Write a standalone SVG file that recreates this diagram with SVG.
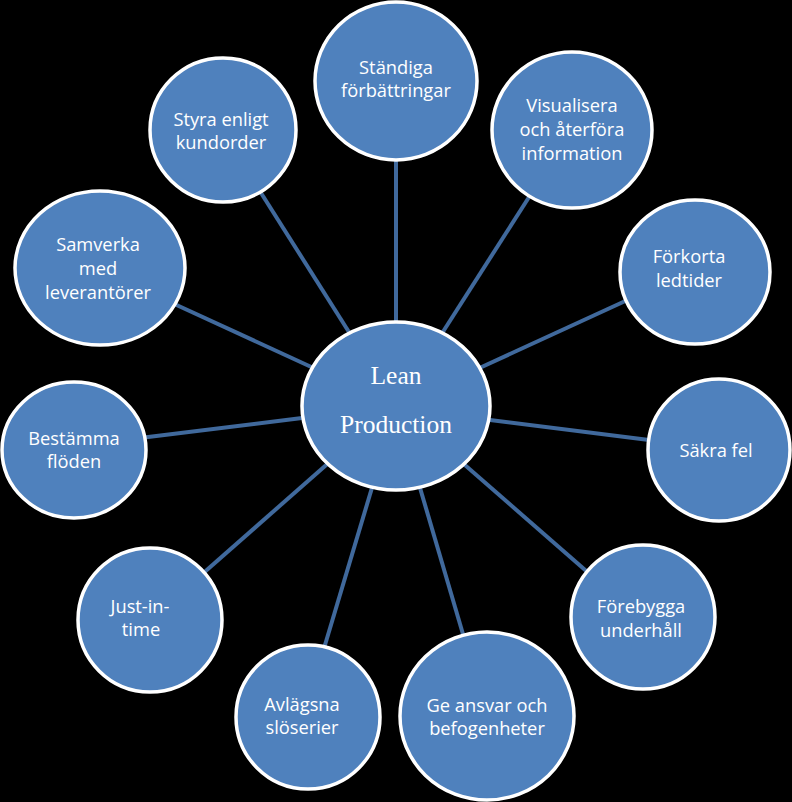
<svg xmlns="http://www.w3.org/2000/svg" width="792" height="802" viewBox="0 0 792 802">
<style>
.n{fill:#4F81BD;stroke:#FFFFFF;stroke-width:3.5}
.t{fill:#FFFFFF;font-family:"Open Sans","Liberation Sans",sans-serif;font-size:18.3px;text-anchor:middle}
.c{fill:#FFFFFF;font-family:"Liberation Serif",serif;font-size:25.5px;text-anchor:middle}
.l{stroke:#40699C;stroke-width:4;fill:none}
</style>
<rect width="792" height="802" fill="#000000"/>
<g id="connectors">
<line class="l" x1="396" y1="150" x2="396" y2="330"/>
<line class="l" x1="531" y1="194" x2="439" y2="338"/>
<line class="l" x1="256" y1="185" x2="354" y2="340"/>
<line class="l" x1="170" y1="302" x2="320" y2="371"/>
<line class="l" x1="634" y1="297" x2="473" y2="371"/>
<line class="l" x1="140" y1="438" x2="310" y2="417"/>
<line class="l" x1="657" y1="441" x2="482" y2="419"/>
<line class="l" x1="200" y1="576" x2="333" y2="459"/>
<line class="l" x1="592" y1="576" x2="458" y2="459"/>
<line class="l" x1="322" y1="655" x2="374" y2="481"/>
<line class="l" x1="465" y1="641" x2="418" y2="481"/>
</g>
<g id="n-standiga"><ellipse class="n" cx="396" cy="81" rx="81" ry="79"/><text class="t" x="396" y="74">Ständiga</text><text class="t" x="396" y="97">förbättringar</text></g>
<g id="n-visualisera"><ellipse class="n" cx="572" cy="130" rx="80" ry="78"/><text class="t" x="572" y="112">Visualisera</text><text class="t" x="572" y="136">och återföra</text><text class="t" x="572" y="160">information</text></g>
<g id="n-styra"><ellipse class="n" cx="223" cy="130" rx="73" ry="72"/><text class="t" x="221" y="126">Styra enligt</text><text class="t" x="221" y="149">kundorder</text></g>
<g id="n-samverka"><ellipse class="n" cx="100" cy="268" rx="85" ry="77"/><text class="t" x="98" y="251">Samverka</text><text class="t" x="98" y="275">med</text><text class="t" x="98" y="299">leverantörer</text></g>
<g id="n-forkorta"><ellipse class="n" cx="695" cy="272" rx="75" ry="72"/><text class="t" x="689" y="263">Förkorta</text><text class="t" x="689" y="287">ledtider</text></g>
<g id="n-sakra"><ellipse class="n" cx="719" cy="450" rx="71" ry="71"/><text class="t" x="716" y="457">Säkra fel</text></g>
<g id="n-bestamma"><ellipse class="n" cx="74" cy="450" rx="72" ry="68"/><text class="t" x="74" y="445">Bestämma</text><text class="t" x="74" y="468">flöden</text></g>
<g id="n-jit"><ellipse class="n" cx="150" cy="620" rx="72" ry="72"/><text class="t" x="140" y="613">Just-in-</text><text class="t" x="141" y="636">time</text></g>
<g id="n-forebygga"><ellipse class="n" cx="643" cy="617" rx="72" ry="72"/><text class="t" x="641" y="613">Förebygga</text><text class="t" x="641" y="637">underhåll</text></g>
<g id="n-avlagsna"><ellipse class="n" cx="308" cy="717" rx="72" ry="72"/><text class="t" x="302" y="711">Avlägsna</text><text class="t" x="302" y="734">slöserier</text></g>
<g id="n-geansvar"><ellipse class="n" cx="487" cy="716" rx="87" ry="84"/><text class="t" x="487" y="712">Ge ansvar och</text><text class="t" x="487" y="735">befogenheter</text></g>
<g id="n-lean"><ellipse class="n" cx="396" cy="406" rx="94" ry="84"/><text class="c" x="396" y="384">Lean</text><text class="c" x="396" y="433">Production</text></g>
</svg>
